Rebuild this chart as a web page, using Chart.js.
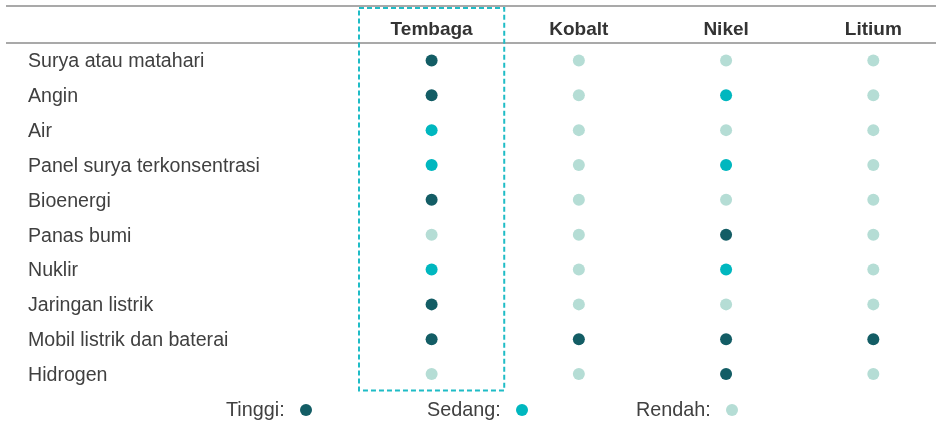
<!DOCTYPE html>
<html>
<head>
<meta charset="utf-8">
<script src="https://cdn.jsdelivr.net/npm/chart.js@4.4.1/dist/chart.umd.min.js"></script>
<style>
  html, body { margin: 0; padding: 0; background: #fff; }
  #wrap { position: relative; width: 936px; height: 423px; }
  #legend { position: absolute; left: 0; top: 397px; width: 936px; height: 26px;
    font-family: 'Liberation Sans', Arial, sans-serif; font-size: 19.8px; color: #404040; }
  .item { position: absolute; top: 0; white-space: nowrap; line-height: 24px; }
  .dot { display: inline-block; width: 12px; height: 12px; border-radius: 50%; margin-left: 15px; vertical-align: 0px; }
</style>
</head>
<body>
<div id="wrap">
  <canvas id="c" width="936" height="423"></canvas>
  <div id="legend"></div>
</div>
<script>
// ---- data ----
const columns = ['Tembaga', 'Kobalt', 'Nikel', 'Litium'];
const rows = ['Surya atau matahari', 'Angin', 'Air', 'Panel surya terkonsentrasi', 'Bioenergi',
  'Panas bumi', 'Nuklir', 'Jaringan listrik', 'Mobil listrik dan baterai', 'Hidrogen'];
const levels = ['Tinggi', 'Sedang', 'Rendah'];
const levelColors = ['#135d65', '#00b7bf', '#b5ddd5'];
// H = Tinggi, M = Sedang, L = Rendah (per row)
const tembaga = ['H', 'H', 'M', 'M', 'H', 'L', 'M', 'H', 'H', 'L'];
const kobalt  = ['L', 'L', 'L', 'L', 'L', 'L', 'L', 'L', 'H', 'L'];
const nikel   = ['L', 'M', 'L', 'M', 'L', 'H', 'M', 'L', 'H', 'H'];
const litium  = ['L', 'L', 'L', 'L', 'L', 'L', 'L', 'L', 'H', 'L'];
const highlightColumn = 'Tembaga';

// ---- build ----
const matrix = [tembaga, kobalt, nikel, litium];
const codes = ['H', 'M', 'L'];
const datasets = levels.map((lv, li) => {
  const pts = [];
  matrix.forEach((col, ci) => col.forEach((v, ri) => {
    if (v === codes[li]) pts.push({ x: ci, y: rows[ri] });
  }));
  return { label: lv + ':', data: pts, backgroundColor: levelColors[li], borderColor: levelColors[li],
    pointRadius: 6, pointHoverRadius: 6, borderWidth: 0 };
});

const FONT = "'Liberation Sans', Arial, sans-serif";

const decor = {
  id: 'decor',
  beforeDatasetsDraw(chart) {
    const { ctx, chartArea, scales } = chart;
    ctx.save();
    ctx.strokeStyle = '#a9a9a9';
    ctx.lineWidth = 2;
    ctx.beginPath();
    ctx.moveTo(6, 6); ctx.lineTo(936, 6);
    ctx.moveTo(6, chartArea.top); ctx.lineTo(936, chartArea.top);
    ctx.stroke();
    const hi = columns.indexOf(highlightColumn);
    const x0 = scales.x.getPixelForValue(hi - 0.5);
    const x1 = scales.x.getPixelForValue(hi + 0.5);
    ctx.strokeStyle = '#1fbcc6';
    ctx.lineWidth = 2;
    ctx.setLineDash([5, 3]);
    ctx.strokeRect(x0 + 1, 8, x1 - x0 - 2, chartArea.bottom - 9);
    ctx.restore();
  }
};

Chart.defaults.font.family = FONT;
new Chart(document.getElementById('c'), {
  type: 'scatter',
  data: { datasets },
  options: {
    responsive: false,
    animation: false,
    devicePixelRatio: 1,
    layout: { padding: { left: 28, right: 0, top: 0, bottom: 31.5 } },
    plugins: { legend: { display: false }, tooltip: { enabled: false } },
    scales: {
      x: {
        type: 'linear', position: 'top', min: -0.5, max: 3.385,
        afterBuildTicks: s => { s.ticks = columns.map((c, i) => ({ value: i })); },
        afterFit: s => { s.height = 43; },
        grid: { display: false, drawTicks: false }, border: { display: false },
        ticks: { callback: v => columns[v], color: '#333', padding: 2, maxRotation: 0, autoSkip: false,
          font: { size: 19, weight: 'bold', family: FONT } }
      },
      y: {
        type: 'category', labels: rows, offset: true,
        afterFit: s => { s.width = 330; },
        grid: { display: false, drawTicks: false }, border: { display: false },
        ticks: { crossAlign: 'far', color: '#404040', autoSkip: false, labelOffset: 1.5,
          font: { size: 19.6, family: FONT } }
      }
    }
  },
  plugins: [decor]
});

// ---- HTML legend ----
const legendLeft = [226, 427, 636];
const lg = document.getElementById('legend');
levels.forEach((lv, i) => {
  const d = document.createElement('div');
  d.className = 'item';
  d.style.left = legendLeft[i] + 'px';
  d.innerHTML = lv + ':<span class="dot" style="background:' + levelColors[i] + '"></span>';
  lg.appendChild(d);
});
</script>
</body>
</html>
